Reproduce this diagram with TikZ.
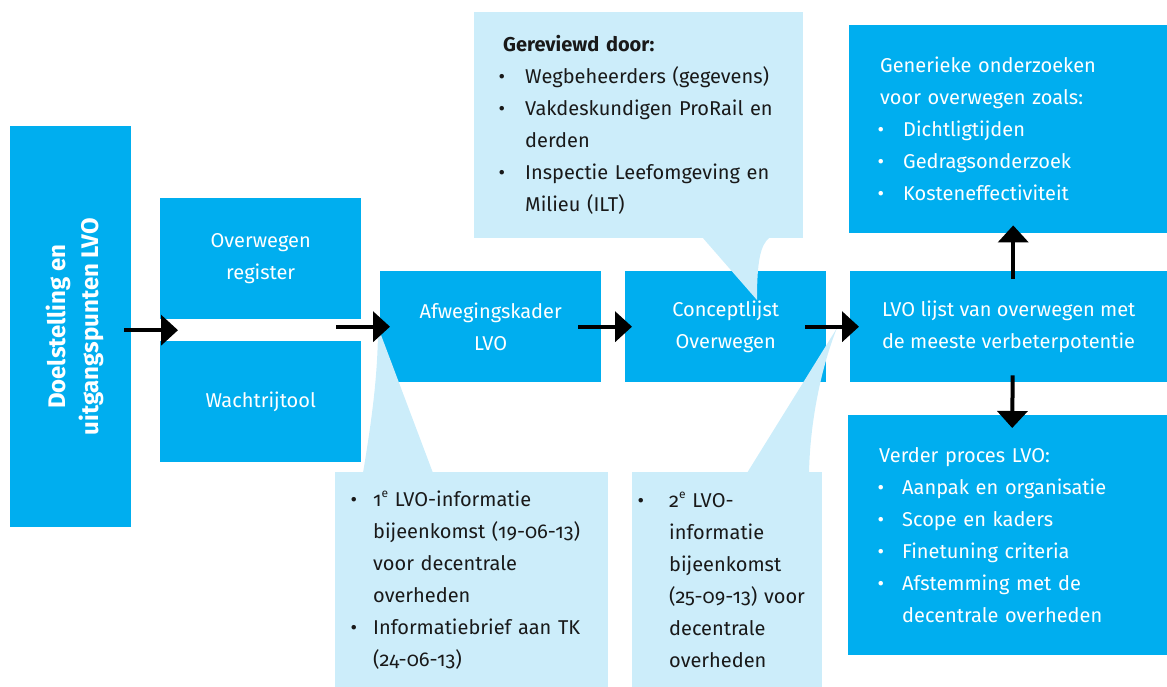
\documentclass[tikz,border=0pt]{standalone}
\usepackage{fontspec}
\setmainfont{Fira Sans}[Numbers=OldStyle]
\usepackage{graphicx}
\usetikzlibrary{arrows.meta,calc}
\definecolor{lvoblue}{RGB}{0,174,239}
\definecolor{lvolight}{RGB}{204,237,250}
\newcommand{\bl}[1]{\makebox[#1][l]{\textbullet}}
\newcommand{\ind}[1]{\hspace*{#1}}
\newcommand{\supe}{\raisebox{0.42em}{\fontsize{12}{12}\selectfont e}}
\tikzset{
  box/.style={fill=lvoblue, text=white, inner sep=0pt, anchor=north west,
    font=\fontsize{20}{32}\selectfont, align=center},
  call/.style={fill=lvolight, text=black!90, inner sep=0pt, anchor=north west,
    font=\fontsize{20}{32}\selectfont, align=left},
  tail/.style={fill=lvolight},
  arr/.style={line width=4pt, -{Triangle[width=30pt,length=17pt]}}
}
\begin{document}
\begin{tikzpicture}[x=1pt,y=-1pt]
\useasboundingbox (0,0) rectangle (1167,687);
\node[box, minimum width=121pt, minimum height=401pt] (doel) at (10,126)
  {\hspace*{10pt}\rotatebox{90}{\bfseries\fontsize{24}{33}\selectfont
   \begin{tabular}{@{}c@{}}Doelstelling en\\uitgangspunten LVO\end{tabular}}};
\node[box, minimum width=201pt, minimum height=121pt] (reg) at (160,198) {Overwegen\\register};
\node[box, minimum width=201pt, minimum height=121pt] (wacht) at (160,341) {Wachtrijtool};
\node[box, minimum width=221pt, minimum height=111pt] (afw) at (380,271) {Afwegingskader\\LVO};
\node[box, minimum width=201pt, minimum height=111pt] (con) at (625,271) {Conceptlijst\\Overwegen};
\node[box, minimum width=317pt, minimum height=111pt, align=left] (lvo) at (850,271)
  {LVO lijst van overwegen met\\de meeste verbeterpotentie};
\node[box, minimum width=318pt, minimum height=208pt, align=left, text width=261pt,
  inner xsep=28.5pt] (gen) at (849,25)
  {\ind{2.5pt}Generieke onderzoeken\\
   \ind{2.5pt}voor overwegen zoals:\\
   \bl{25.5pt}Dichtligtijden\\
   \bl{25.5pt}Gedragsonderzoek\\
   \bl{25.5pt}Kosteneffectiviteit};
\node[box, minimum width=319pt, minimum height=240pt, align=left, text width=260pt,
  inner xsep=29.5pt] (ver) at (848,415)
  {\ind{1.5pt}Verder proces LVO:\\
   \bl{24.5pt}Aanpak en organisatie\\
   \bl{24.5pt}Scope en kaders\\
   \bl{24.5pt}Finetuning criteria\\
   \bl{24.5pt}Afstemming met de\\
   \ind{24.5pt}decentrale overheden};

\node[call, minimum width=329pt, minimum height=226pt, text width=280pt,
  inner xsep=24.5pt] (rev) at (474,12)
  {\ind{4.5pt}\textbf{Gereviewd door:}\\
   \bl{26.5pt}Wegbeheerders (gegevens)\\
   \bl{26.5pt}Vakdeskundigen ProRail en\\
   \ind{26.5pt}derden\\
   \bl{26.5pt}Inspectie Leefomgeving en\\
   \ind{26.5pt}Milieu (ILT)};
\fill[tail] (702,237) -- (757,300) .. controls (757,262) and (760,245) .. (770,237) -- cycle;
\node[call, minimum width=273pt, minimum height=215pt, text width=242pt,
  inner xsep=15.5pt] (info1) at (335,472)
  {\bl{22.5pt}1\supe{} LVO-informatie\\
   \ind{22.5pt}bijeenkomst (19-06-13)\\
   \ind{22.5pt}voor decentrale\\
   \ind{22.5pt}overheden\\
   \bl{22.5pt}Informatiebrief aan TK\\
   \ind{22.5pt}(24-06-13)};
\fill[tail] (363,473) .. controls (370,430) and (378,380) .. (378,327) -- (433,473) -- cycle;
\node[call, minimum width=190pt, minimum height=215pt, text width=179pt,
  inner xsep=5.5pt] (info2) at (632,472)
  {\bl{31.5pt}2\supe{} LVO-\\
   \ind{31.5pt}informatie\\
   \ind{31.5pt}bijeenkomst\\
   \ind{31.5pt}(25-09-13) voor\\
   \ind{31.5pt}decentrale\\
   \ind{31.5pt}overheden};
\fill[tail] (747,473) -- (837,328) .. controls (822,365) and (810,420) .. (809,473) -- cycle;

\coordinate (gap) at ($(reg.south west)!0.5!(wacht.north west)$);
\draw[arr] ([xshift=-7pt]doel.east |- gap) -- ([xshift=18pt]gap);
\draw[arr] ([xshift=-25pt]reg.east |- afw.west) -- ([xshift=10pt]afw.west);
\draw[arr] ([xshift=-23pt]afw.east) -- ([xshift=7pt]con.west);
\draw[arr] ([xshift=-21pt]con.east) -- ([xshift=9pt]lvo.west);
\draw[arr] ([xshift=4.5pt,yshift=-8pt]lvo.north) -- ([xshift=5pt,yshift=8pt]gen.south);
\draw[arr] ([xshift=4pt,yshift=7pt]lvo.south) -- ([xshift=4.5pt,yshift=-13pt]ver.north);
\end{tikzpicture}
\end{document}
